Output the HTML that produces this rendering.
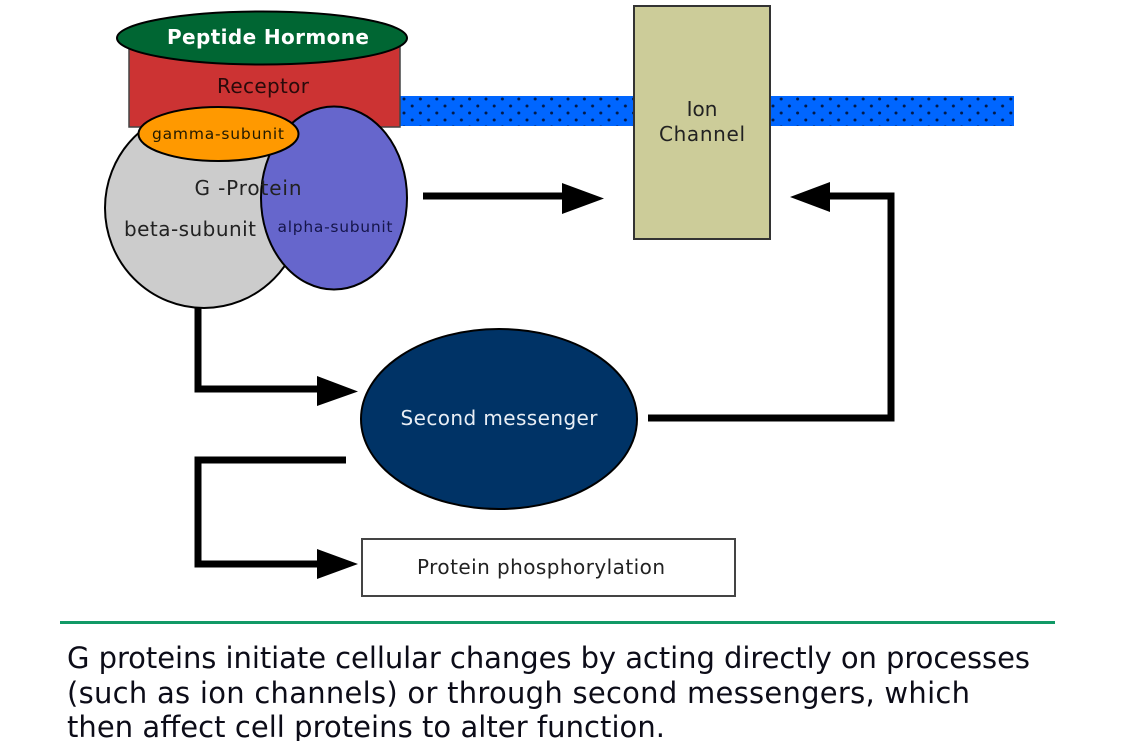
<!DOCTYPE html>
<html><head><meta charset="utf-8"><style>
html,body{margin:0;padding:0;background:#fff}
svg{display:block;filter:blur(0.3px)}
text{font-family:"DejaVu Sans","Liberation Sans",sans-serif}
</style></head><body>
<svg width="1137" height="741" viewBox="0 0 1137 741" xmlns="http://www.w3.org/2000/svg">
<defs>
<pattern id="d" width="16.4" height="14" patternUnits="userSpaceOnUse" x="400" y="96">
<rect width="16.4" height="14" fill="#0066ff"/>
<circle cx="4" cy="3" r="1.5" fill="#021a48"/>
<circle cx="12.200" cy="10" r="1.5" fill="#021a48"/>
</pattern>
</defs>
<rect width="1137" height="741" fill="#fff"/>
<rect x="400" y="96" width="234" height="30" fill="url(#d)"/>
<rect x="770" y="96" width="244" height="30" fill="url(#d)"/>
<rect x="129" y="45" width="271" height="82" fill="#cc3333" stroke="#444" stroke-width="1.5"/>
<ellipse cx="262" cy="38" rx="145" ry="26.5" fill="#006633" stroke="#000" stroke-width="2"/>
<text x="268" y="44" font-size="20" font-weight="bold" fill="#fff" text-anchor="middle" textLength="202">Peptide Hormone</text>
<text x="263" y="93" font-size="20" fill="#2a0a0a" text-anchor="middle" textLength="92">Receptor</text>
<ellipse cx="204" cy="208" rx="99" ry="100" fill="#cccccc" stroke="#000" stroke-width="2"/>
<ellipse cx="334" cy="198" rx="73" ry="91.500" fill="#6666cc" stroke="#000" stroke-width="2"/>
<ellipse cx="218.500" cy="134" rx="80" ry="27" fill="#ff9900" stroke="#000" stroke-width="2"/>
<text x="218" y="139" font-size="15.500" fill="#221a00" text-anchor="middle" textLength="132">gamma-subunit</text>
<text x="248" y="195" font-size="20" fill="#222" text-anchor="middle" textLength="107">G -Protein</text>
<text x="190" y="236" font-size="20" fill="#222" text-anchor="middle" textLength="132">beta-subunit</text>
<text x="335" y="232" font-size="15.500" fill="#15154a" text-anchor="middle" textLength="115">alpha-subunit</text>
<rect x="634" y="6" width="136" height="233" fill="#cccc99" stroke="#333" stroke-width="2"/>
<text x="702" y="116" font-size="20" fill="#222" text-anchor="middle">Ion</text>
<text x="702" y="141" font-size="20" fill="#222" text-anchor="middle" textLength="86">Channel</text>
<path d="M423 196H565" fill="none" stroke="#000" stroke-width="7"/>
<polygon points="562,183 604,198.500 562,214" fill="#000"/>
<path d="M648 418H891V196H825" fill="none" stroke="#000" stroke-width="7"/>
<polygon points="830,182 790,197 830,212" fill="#000"/>
<path d="M198 308V389H320" fill="none" stroke="#000" stroke-width="7"/>
<polygon points="317,376 358,391.500 317,406" fill="#000"/>
<path d="M346 460H198V564H320" fill="none" stroke="#000" stroke-width="7"/>
<polygon points="317,549 358,564 317,579" fill="#000"/>
<ellipse cx="499" cy="419" rx="138" ry="90" fill="#003366" stroke="#000" stroke-width="2"/>
<text x="499" y="425" font-size="20" fill="#e8eef5" text-anchor="middle" textLength="197">Second messenger</text>
<rect x="362" y="539" width="373" height="57" fill="#fff" stroke="#444" stroke-width="2"/>
<text x="541" y="574" font-size="20" fill="#222" text-anchor="middle" textLength="248">Protein phosphorylation</text>
<rect x="60" y="621" width="995" height="3" fill="#119966"/>
<text x="67" y="668" font-size="29" fill="#0c0c18" textLength="963">G proteins initiate cellular changes by acting directly on processes</text>
<text x="67" y="703" font-size="29" fill="#0c0c18" textLength="903">(such as ion channels) or through second messengers, which</text>
<text x="67" y="737" font-size="29" fill="#0c0c18" textLength="598">then affect cell proteins to alter function.</text>
</svg>
</body></html>
